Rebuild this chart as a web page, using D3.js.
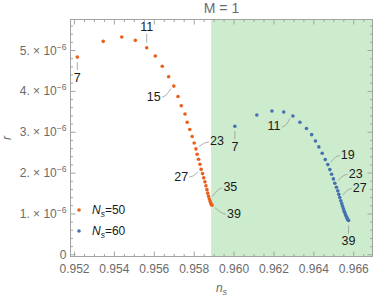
<!DOCTYPE html>
<html>
<head>
<meta charset="utf-8">
<script src="https://cdn.jsdelivr.net/npm/d3@7"></script>
<style>
  body { margin: 0; background: #fff; }
  svg { display: block; font-family: "Liberation Sans", Arial, sans-serif; }
</style>
</head>
<body>
<div id="chart"></div>
<script>
// N values along each curve
const nValues = d3.range(7, 40);

// N_s = 50 (orange)
const ns50 = [0.95214, 0.95344, 0.95437, 0.95505, 0.95562, 0.95605, 0.95640, 0.95672, 0.95698, 0.95719,
  0.95735, 0.95754, 0.95765, 0.95778, 0.95790, 0.95800, 0.95809, 0.95815, 0.95822, 0.95829,
  0.95835, 0.95842, 0.95848, 0.95854, 0.95859, 0.95864, 0.95868, 0.95872, 0.95876, 0.95880,
  0.95883, 0.95886, 0.95889];
const r50 = [4.84, 5.225, 5.33, 5.25, 5.07, 4.865, 4.614, 4.36, 4.13, 3.875,
  3.648, 3.447, 3.244, 3.068, 2.897, 2.738, 2.592, 2.462, 2.340, 2.218,
  2.095, 1.988, 1.883, 1.785, 1.687, 1.594, 1.509, 1.433, 1.367, 1.311,
  1.267, 1.235, 1.215].map(v => v * 1e-6);

// N_s = 60 (blue)
const ns60 = [0.96004, 0.96114, 0.96190, 0.96249, 0.96295, 0.96330, 0.96363, 0.96389, 0.96408, 0.96425,
  0.96442, 0.96457, 0.96470, 0.96480, 0.96489, 0.96498, 0.96505, 0.96513, 0.96520, 0.96525,
  0.96530, 0.96535, 0.96540, 0.96544, 0.96548, 0.96552, 0.96556, 0.96559, 0.96563, 0.96566,
  0.96569, 0.96571, 0.96574];
const r60 = [3.147, 3.423, 3.521, 3.496, 3.399, 3.244, 3.093, 2.941, 2.787, 2.641,
  2.487, 2.330, 2.208, 2.086, 1.973, 1.858, 1.753, 1.655, 1.565, 1.479,
  1.401, 1.323, 1.252, 1.186, 1.125, 1.068, 1.020, 0.976, 0.936, 0.902,
  0.873, 0.853, 0.839].map(v => v * 1e-6);

// labelled points
const labels50 = [7, 11, 15, 23, 27, 35, 39];
const labels60 = [7, 11, 19, 23, 27, 39];

const xTicks = [0.952, 0.954, 0.956, 0.958, 0.960, 0.962, 0.964, 0.966];
const yTicks = [0, 1, 2, 3, 4, 5];
const shadeFrom = 0.95885;

const width = 374, height = 300;
const margin = {top: 19.5, right: 1.5, bottom: 43.5, left: 70.5};
const colors = {"50": "#ea5f1b", "60": "#4571b0"};

const svg = d3.select("#chart").append("svg")
  .attr("width", width)
  .attr("height", height);

const x = d3.scaleLinear()
  .domain([0.9518, 0.96694])
  .range([margin.left, width - margin.right]);
const y = d3.scaleLinear()
  .domain([-0.042e-6, 5.76e-6])
  .range([height - margin.bottom, margin.top]);

const [x0, x1] = x.range(), [y0, y1] = y.range();

// shaded region
svg.append("rect")
  .attr("x", x(shadeFrom))
  .attr("y", y1)
  .attr("width", x1 - x(shadeFrom))
  .attr("height", y0 - y1)
  .attr("fill", "#cdebcd");

// frame with inward ticks on all sides
const frame = svg.append("g").attr("stroke", "#a3a3a3").attr("fill", "none");
frame.append("rect")
  .attr("x", x0).attr("y", y1)
  .attr("width", x1 - x0).attr("height", y0 - y1);

const xMinor = d3.range(0.952, 0.9669, 0.0005);
xMinor.forEach(v => {
  const major = xTicks.some(t => Math.abs(t - v) < 1e-7);
  const len = major ? 5 : 2.5;
  frame.append("line").attr("x1", x(v)).attr("x2", x(v)).attr("y1", y0).attr("y2", y0 - len);
  frame.append("line").attr("x1", x(v)).attr("x2", x(v)).attr("y1", y1).attr("y2", y1 + len);
});
const yMinor = d3.range(0, 5.75, 0.2);
yMinor.forEach(v => {
  const major = Math.abs(v - Math.round(v)) < 1e-6;
  const len = major ? 5 : 2.5;
  frame.append("line").attr("y1", y(v * 1e-6)).attr("y2", y(v * 1e-6)).attr("x1", x0).attr("x2", x0 + len);
  frame.append("line").attr("y1", y(v * 1e-6)).attr("y2", y(v * 1e-6)).attr("x1", x1).attr("x2", x1 - len);
});

// tick labels
svg.append("g")
  .selectAll("text")
  .data(xTicks)
  .join("text")
    .attr("x", d => x(d))
    .attr("y", y0 + 16)
    .attr("text-anchor", "middle")
    .attr("font-size", 12)
    .attr("fill", "#6b6b6b")
    .text(d => d3.format(".3f")(d));

const yLab = svg.append("g")
  .selectAll("text")
  .data(yTicks)
  .join("text")
    .attr("x", x0 - 4)
    .attr("y", d => y(d * 1e-6) + 4)
    .attr("text-anchor", "end")
    .attr("font-size", 12)
    .attr("fill", "#6b6b6b");
yLab.filter(d => d === 0).text("0");
yLab.filter(d => d !== 0).each(function(d) {
  const t = d3.select(this);
  t.append("tspan").text(d + ". \u00d7 10");
  t.append("tspan").attr("dy", -5).attr("font-size", 8.5).text("\u22126");
});

// axis titles
svg.append("text")
  .attr("x", (x0 + x1) / 2)
  .attr("y", 13)
  .attr("text-anchor", "middle")
  .attr("font-size", 14)
  .attr("fill", "#6b6b6b")
  .text("M = 1");

svg.append("text")
  .attr("x", (x0 + x1) / 2)
  .attr("y", 292)
  .attr("text-anchor", "middle")
  .attr("font-size", 12)
  .attr("font-style", "italic")
  .attr("fill", "#6b6b6b")
  .call(t => {
    t.append("tspan").text("n");
    t.append("tspan").attr("dy", 3).attr("font-size", 9).text("s");
  });

svg.append("text")
  .attr("transform", `translate(11,${(y0 + y1) / 2}) rotate(-90)`)
  .attr("text-anchor", "middle")
  .attr("font-size", 12)
  .attr("font-style", "italic")
  .attr("fill", "#6b6b6b")
  .text("r");

// series
const series = [
  {key: "50", ns: ns50, r: r50, labels: labels50},
  {key: "60", ns: ns60, r: r60, labels: labels60}
];

// label placement: offset of label centre from its point (px)
const place = {
  "50": {7: [0, 20], 11: [0, -21], 15: [-20, 10], 23: [21, -8], 27: [-20, 7], 35: [21, -12], 39: [22, 8]},
  "60": {7: [0, 20], 11: [-19, 10], 19: [20, -10], 23: [21, -10], 27: [20, -10], 39: [0, 20]}
};

series.forEach(s => {
  const pts = nValues.map((n, i) => ({n, x: x(s.ns[i]), y: y(s.r[i])}));

  svg.append("g")
    .selectAll("circle")
    .data(pts)
    .join("circle")
      .attr("cx", d => d.x)
      .attr("cy", d => d.y)
      .attr("r", 1.8)
      .attr("fill", colors[s.key]);

  const g = svg.append("g");
  s.labels.forEach(n => {
    const p = pts.find(d => d.n === n);
    const [dx, dy] = place[s.key][n];
    const lx = p.x + dx, ly = p.y + dy;
    let path;
    if (dx === 0) {
      const sgn = Math.sign(dy);
      path = `M${p.x},${p.y + sgn * 5}V${ly - sgn * 7}`;
    } else {
      // short curved callout ending horizontally next to the label
      const sgn = Math.sign(dx);
      const ex = lx - sgn * 8;
      const sx = p.x + sgn * 3, sy = p.y + Math.sign(dy) * 2.5;
      path = `M${sx},${sy}Q${ex - sgn * 4},${ly + 1} ${ex},${ly + 1}`;
    }
    g.append("path")
      .attr("d", path)
      .attr("fill", "none")
      .attr("stroke", "#999")
      .attr("stroke-width", 0.8);
    g.append("text")
      .attr("x", lx)
      .attr("y", ly + 4.5)
      .attr("text-anchor", "middle")
      .attr("font-size", 12.5)
      .attr("fill", "#1a1a1a")
      .text(n);
  });
});

// legend
const legend = svg.append("g")
  .selectAll("g")
  .data(series)
  .join("g")
    .attr("transform", (d, i) => `translate(79,${210 + i * 21})`);
legend.append("circle").attr("r", 1.8).attr("fill", d => colors[d.key]);
legend.append("text")
  .attr("x", 13)
  .attr("y", 4)
  .attr("font-size", 12)
  .attr("fill", "#1a1a1a")
  .call(t => {
    t.append("tspan").attr("font-style", "italic").text("N");
    t.append("tspan").attr("dy", 3).attr("font-size", 8.5).attr("font-style", "italic").text("s");
    t.append("tspan").attr("dy", -3).text(d => "=" + d.key);
  });
</script>
</body>
</html>
